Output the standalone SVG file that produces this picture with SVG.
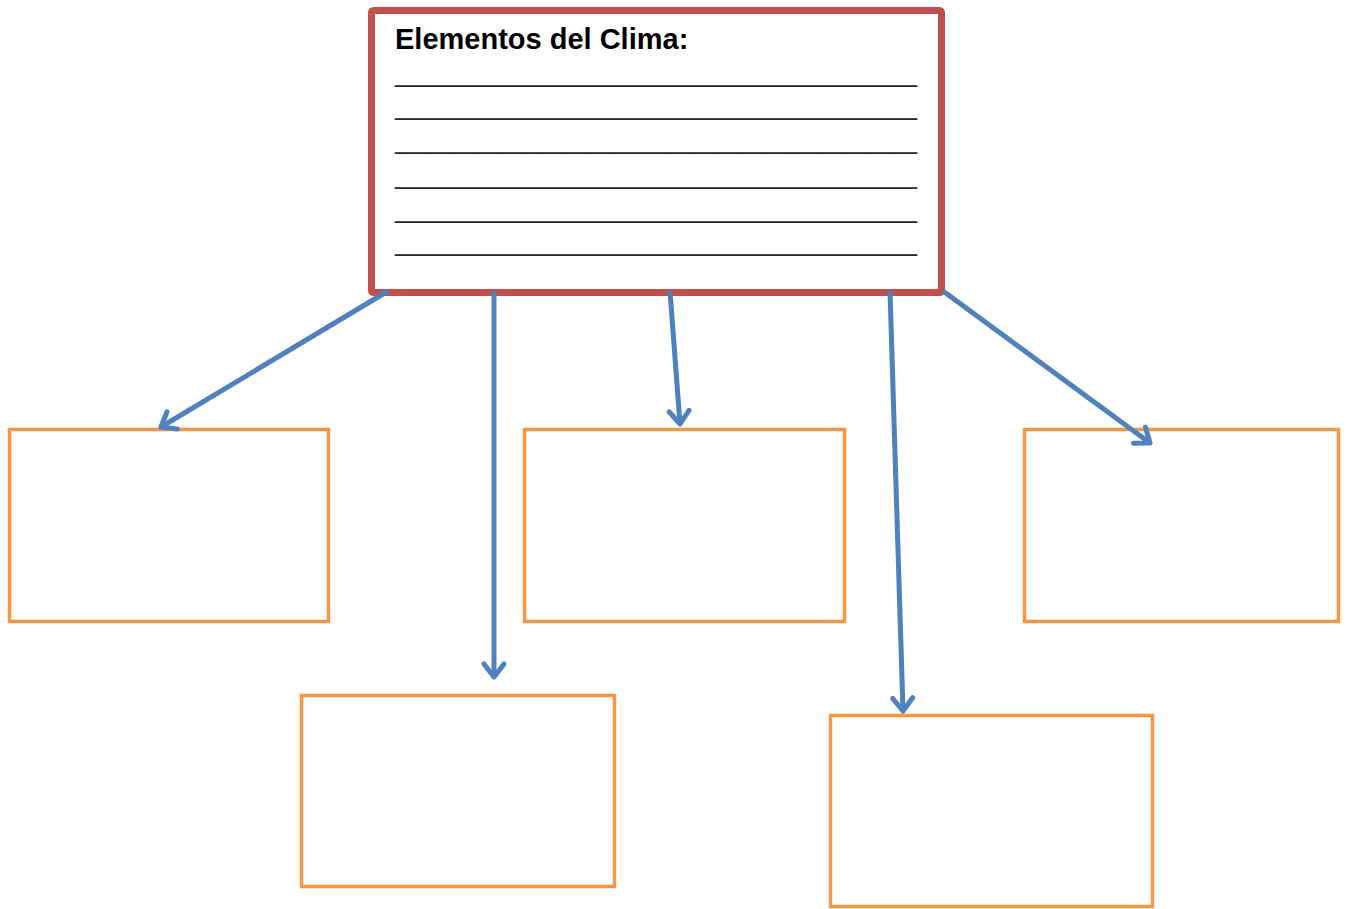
<svg xmlns="http://www.w3.org/2000/svg" width="1346" height="909" viewBox="0 0 1346 909">
<style>
.main{fill:#fff;stroke:#C0504D;stroke-width:7}
.box{fill:#fff;stroke:#F79646;stroke-width:3.5}
.conn{fill:none;stroke:#4F81BD;stroke-width:5}
.title{font-family:"Liberation Sans",Arial,sans-serif;font-weight:bold;font-size:29px;fill:#000}
.ul{font-family:"Liberation Sans",Arial,sans-serif;font-size:28px;fill:#262626}
</style>
<defs>
<marker id="ah" markerUnits="userSpaceOnUse" viewBox="-20 -15 30 30" markerWidth="30" markerHeight="30" refX="0" refY="0" orient="auto" overflow="visible">
<path d="M-13,-10 L0,0 L-13,10" fill="none" stroke="#4F81BD" stroke-width="5" stroke-linecap="round" stroke-linejoin="round"/>
</marker>
</defs>
<g id="n-main">
<rect class="main" x="371.5" y="10.5" width="570" height="282" rx="2"/>
<text class="title" x="395" y="49">Elementos del Clima:</text>
<text class="ul" x="395" y="81" textLength="522" lengthAdjust="spacingAndGlyphs">____________________________________________</text>
<text class="ul" x="395" y="114" textLength="522" lengthAdjust="spacingAndGlyphs">____________________________________________</text>
<text class="ul" x="395" y="148" textLength="522" lengthAdjust="spacingAndGlyphs">____________________________________________</text>
<text class="ul" x="395" y="183" textLength="522" lengthAdjust="spacingAndGlyphs">____________________________________________</text>
<text class="ul" x="395" y="217" textLength="522" lengthAdjust="spacingAndGlyphs">____________________________________________</text>
<text class="ul" x="395" y="250" textLength="522" lengthAdjust="spacingAndGlyphs">____________________________________________</text>
</g>
<g id="n-box1"><rect class="box" x="9.5" y="429.5" width="319" height="192"/></g>
<g id="n-box2"><rect class="box" x="524.5" y="429.5" width="320" height="192"/></g>
<g id="n-box3"><rect class="box" x="1024.5" y="429.5" width="314" height="192"/></g>
<g id="n-box4"><rect class="box" x="301.5" y="695.5" width="313" height="191"/></g>
<g id="n-box5"><rect class="box" x="830.5" y="715.5" width="322" height="191"/></g>
<g id="connectors">
<line class="conn" x1="388" y1="291" x2="161" y2="427" marker-end="url(#ah)"/>
<line class="conn" x1="494" y1="291" x2="494" y2="677" marker-end="url(#ah)"/>
<line class="conn" x1="670" y1="291" x2="680" y2="424" marker-end="url(#ah)"/>
<line class="conn" x1="890" y1="291" x2="903" y2="711" marker-end="url(#ah)"/>
<line class="conn" x1="943" y1="291" x2="1150" y2="443" marker-end="url(#ah)"/>
</g>
</svg>
